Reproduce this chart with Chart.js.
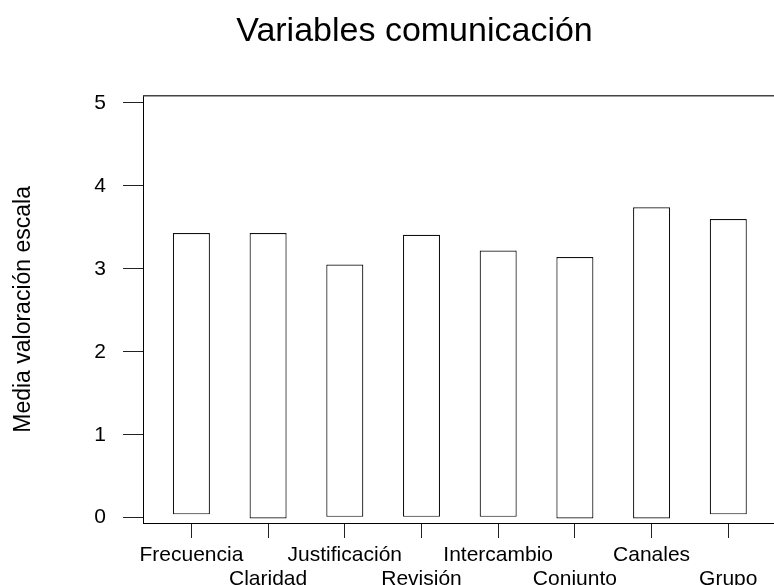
<!DOCTYPE html>
<html>
<head>
<meta charset="utf-8">
<title>Variables comunicación</title>
<script src="https://cdn.jsdelivr.net/npm/chart.js@4/dist/chart.umd.min.js"></script>
<style>
  html, body { margin: 0; padding: 0; background: #fff; }
  #wrap { width: 774px; height: 585px; }
</style>
</head>
<body>
<div id="wrap"><canvas id="chart" width="774" height="585"></canvas></div>
<script>
// Chart data
const categories = ['Frecuencia', 'Claridad', 'Justificación', 'Revisión', 'Intercambio', 'Conjunto', 'Canales', 'Grupo'];
const barBase = [0.04, -0.01, 0.01, 0.01, 0.01, -0.01, -0.01, 0.04];
const barMean = [3.43, 3.43, 3.05, 3.41, 3.22, 3.14, 3.74, 3.60];
const yTicks = [0, 1, 2, 3, 4, 5];

const FONT = "'Liberation Sans', Arial, sans-serif";

// top frame line (the reference has a box top but no right side)
const topLine = {
  id: 'topLine',
  afterDraw(chart) {
    const { ctx, chartArea } = chart;
    ctx.save();
    ctx.strokeStyle = '#444';
    ctx.lineWidth = 1.5;
    ctx.beginPath();
    ctx.moveTo(chartArea.left, chartArea.top);
    ctx.lineTo(chart.width, chartArea.top);
    ctx.stroke();
    ctx.restore();
  }
};

new Chart(document.getElementById('chart').getContext('2d'), {
  type: 'bar',
  data: {
    datasets: [{
      data: categories.map((c, i) => ({ x: i, y: [barBase[i], barMean[i]] })),
      backgroundColor: '#fff',
      borderColor: '#111',
      borderWidth: 1.2,
      borderSkipped: false,
      barPercentage: 0.483,
      categoryPercentage: 1
    }]
  },
  options: {
    responsive: false,
    animation: false,
    // left padding only moves the centre of the title to match the reference
    layout: { padding: { left: 55 } },
    plugins: {
      legend: { display: false },
      tooltip: { enabled: false },
      title: {
        display: true,
        text: 'Variables comunicación',
        color: '#000',
        font: { family: FONT, size: 34, weight: 'normal', lineHeight: 1.2 },
        padding: { top: 11, bottom: 44 }
      }
    },
    scales: {
      x: {
        type: 'linear',
        position: 'bottom',
        offset: false,
        min: -0.631,
        max: 7.596,
        afterBuildTicks: (scale) => { scale.ticks = categories.map((c, i) => ({ value: i })); },
        afterFit: (scale) => { scale.height = 62; },
        grid: { offset: false, drawOnChartArea: false, tickLength: 15, color: '#222', lineWidth: 1 },
        border: { display: true, color: '#000', width: 1 },
        ticks: {
          autoSkip: false,
          maxRotation: 0,
          padding: 5,
          color: '#000',
          font: { family: FONT, size: 21, lineHeight: 1.16 },
          callback: (v) => (v % 2 ? ['', categories[v]] : categories[v])
        }
      },
      y: {
        min: -0.064,
        max: 5.084,
        afterBuildTicks: (scale) => { scale.ticks = yTicks.map(v => ({ value: v })); },
        afterFit: (scale) => { scale.width = 88; },
        grid: { drawOnChartArea: false, tickLength: 20, color: '#222', lineWidth: 1 },
        border: { display: true, color: '#000', width: 1 },
        ticks: {
          padding: 17,
          color: '#000',
          font: { family: FONT, size: 21 }
        },
        title: {
          display: true,
          text: 'Media valoración escala',
          color: '#000',
          font: { family: FONT, size: 23 },
          padding: { top: -45, bottom: 0 }
        }
      }
    }
  },
  plugins: [topLine]
});
</script>
</body>
</html>
